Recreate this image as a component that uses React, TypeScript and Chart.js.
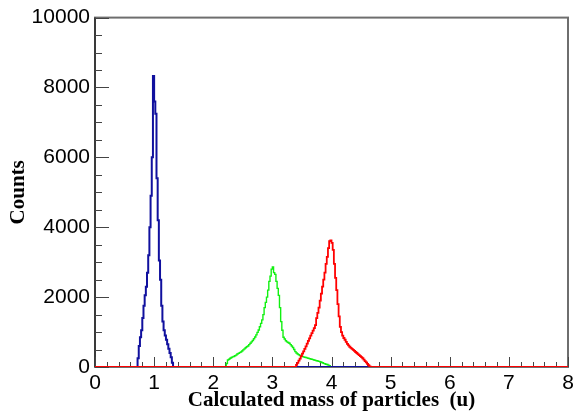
import { useEffect, useRef } from "react";
import { Chart, registerables } from "chart.js";

Chart.register(...registerables);

// ---- data (histograms, bin width 0.02 u) ----
const binWidth = 0.02;

const blueStart = 0.72;
const blueCounts = [
  250, 600, 850, 1050, 1400, 1750, 2050, 2300, 2700, 3200,
  4000, 4900, 6000, 8330, 7600, 7250, 5400, 4200, 3050, 2500,
  1750, 1300, 1050, 900, 780, 650, 520, 400, 280, 120,
];

const greenStart = 2.22;
const greenCounts = [
  100, 200, 220, 250, 270, 290, 300, 320, 340, 370,
  390, 410, 430, 460, 490, 520, 550, 580, 600, 640,
  680, 720, 760, 810, 860, 920, 990, 1060, 1150, 1250,
  1350, 1500, 1700, 1850, 2000, 2200, 2450, 2600, 2800, 2860,
  2700, 2650, 2450, 2250, 2050, 1700, 1300, 1050, 850, 800,
  750, 720, 700, 680, 640, 600, 560, 500, 440, 400,
  370, 350, 330, 315, 300, 290, 280, 270, 260, 250,
  240, 230, 220, 210, 200, 190, 180, 170, 160, 150,
  135, 120, 105, 95, 80, 70, 55, 40,
];

const redStart = 3.4;
const redCounts = [
  60, 120, 180, 240, 310, 380, 450, 520, 590, 670,
  750, 820, 900, 970, 1040, 1110, 1200, 1400, 1550, 1700,
  1900, 2100, 2300, 2500, 2700, 2950, 3150, 3400, 3600, 3620,
  3550, 3350, 2950, 2550, 2200, 1800, 1450, 1150, 1000, 900,
  830, 780, 720, 660, 620, 580, 550, 520, 490, 460,
  430, 400, 370, 340, 310, 280, 250, 210, 170, 130,
  90, 50, 20,
];

const xMin = 0;
const xMax = 8;
const xTickLabels = ["0", "1", "2", "3", "4", "5", "6", "7", "8"];
const yMin = 0;
const yMax = 10000;
const yTickLabels = ["0", "2000", "4000", "6000", "8000", "10000"];

const xTitle = "Calculated mass of particles  (u)";
const yTitle = "Counts";

function histPoints(start: number, counts: number[]) {
  const pts: { x: number; y: number }[] = [{ x: xMin, y: 0 }];
  counts.forEach((c, i) => pts.push({ x: +(start + i * binWidth).toFixed(4), y: c }));
  pts.push({ x: +(start + counts.length * binWidth).toFixed(4), y: 0 });
  pts.push({ x: xMax, y: 0 });
  return pts;
}

const frameTicks = {
  id: "frameTicks",
  beforeDatasetsDraw(chart: any) {
    const { ctx, chartArea, scales } = chart;
    const { left, right, top, bottom } = chartArea;
    const xs = scales.x;
    const ys = scales.y;
    ctx.save();
    ctx.strokeStyle = "#6e6e6e";
    ctx.lineWidth = 2;
    ctx.strokeRect(left, top, right - left, bottom - top);
    ctx.strokeStyle = "#3a3a3a";
    ctx.beginPath();
    ctx.moveTo(left, top);
    ctx.lineTo(left, bottom);
    ctx.stroke();
    ctx.lineWidth = 1;
    ctx.strokeStyle = "#444";
    ctx.beginPath();
    for (let k = 0; k <= 40; k++) {
      const px = Math.round(xs.getPixelForValue(xMin + k * 0.2)) + 0.5;
      const len = k % 5 === 0 ? 10 : 5;
      ctx.moveTo(px, bottom);
      ctx.lineTo(px, bottom - len);
    }
    for (let k = 0; k <= 20; k++) {
      const py = Math.round(ys.getPixelForValue(yMin + k * 500)) + 0.5;
      const len = k % 4 === 0 ? 14 : 7;
      ctx.moveTo(left, py);
      ctx.lineTo(left + len, py);
    }
    ctx.stroke();
    ctx.restore();
  },
};

export default function App() {
  const ref = useRef<HTMLCanvasElement | null>(null);

  useEffect(() => {
    if (!ref.current) return;
    const common = {
      pointRadius: 0,
      fill: false,
      stepped: "before" as const,
      tension: 0,
    };
    const chart = new Chart(ref.current, {
      type: "line",
      data: {
        datasets: [
          { ...common, label: "red", data: histPoints(redStart, redCounts), borderColor: "#ff0000", borderWidth: 1.8 },
          { ...common, label: "blue", data: histPoints(blueStart, blueCounts), borderColor: "#10109e", borderWidth: 2 },
          { ...common, label: "green", data: histPoints(greenStart, greenCounts), borderColor: "#11f011", borderWidth: 1.4 },
        ],
      },
      options: {
        responsive: false,
        devicePixelRatio: 1,
        animation: false,
        events: [],
        layout: { padding: { left: 0, top: 16, right: 12, bottom: 0 } },
        plugins: { legend: { display: false }, tooltip: { enabled: false } },
        scales: {
          x: {
            type: "linear",
            min: xMin,
            max: xMax,
            grid: { display: true, drawOnChartArea: false, drawTicks: false },
            border: { display: false },
            ticks: {
              stepSize: 1,
              padding: 4,
              color: "#000",
              font: { family: "'Liberation Sans', Arial, sans-serif", size: 21 },
              maxRotation: 0,
              autoSkip: false,
              callback: (v: any, i: number) => xTickLabels[i] ?? String(v),
            },
            title: {
              display: true,
              text: xTitle,
              color: "#000",
              font: { family: "'Liberation Serif', 'Times New Roman', serif", size: 21, weight: "bold", lineHeight: 1 },
              padding: { top: 0, bottom: 0 },
            },
            afterFit: (s: any) => {
              s.height = 44;
            },
          },
          y: {
            type: "linear",
            min: yMin,
            max: yMax,
            grid: { display: true, drawOnChartArea: false, drawTicks: false },
            border: { display: false },
            ticks: {
              stepSize: 2000,
              padding: 5,
              color: "#000",
              font: { family: "'Liberation Sans', Arial, sans-serif", size: 21 },
              autoSkip: false,
              callback: (v: any, i: number) => yTickLabels[i] ?? String(v),
            },
            title: {
              display: true,
              text: yTitle,
              color: "#000",
              font: { family: "'Liberation Serif', 'Times New Roman', serif", size: 21, weight: "bold", lineHeight: 1 },
              padding: { top: 8, bottom: 0 },
            },
            afterFit: (s: any) => {
              s.width = 95;
            },
          },
        },
      },
      plugins: [frameTicks],
    });
    return () => chart.destroy();
  }, []);

  return (
    <div style={{ position: "absolute", left: 0, top: 0, width: 580, height: 411, background: "#fff" }}>
      <canvas ref={ref} width={580} height={411} />
    </div>
  );
}
